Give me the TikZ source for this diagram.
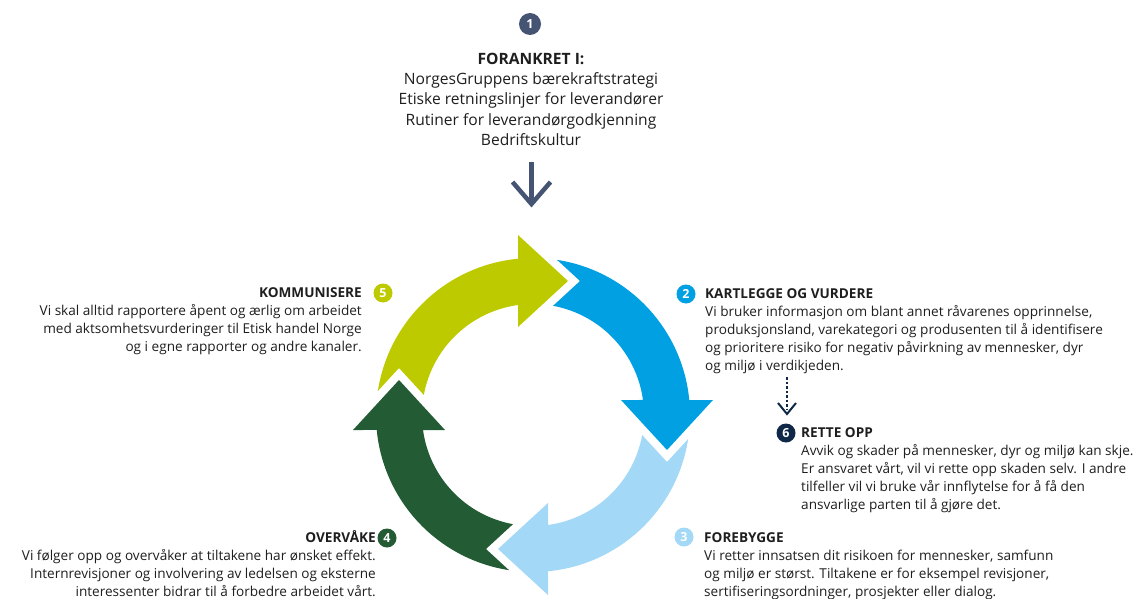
\documentclass[tikz,border=0pt]{standalone}
\usepackage{fontspec}
\setmainfont{Open Sans}
\usetikzlibrary{positioning}

\definecolor{ringYellow}{RGB}{190,202,0}
\definecolor{ringBlue}{RGB}{0,160,227}
\definecolor{ringLight}{RGB}{163,216,246}
\definecolor{ringGreen}{RGB}{35,92,52}
\definecolor{badgeGrey}{RGB}{68,84,114}
\definecolor{badgeNavy}{RGB}{16,40,72}
\definecolor{textDark}{RGB}{30,30,30}

\newcommand{\ttl}[1]{\textbf{\vphantom{Å}#1}}

\tikzset{
  badge/.style={circle, inner sep=0pt, minimum size=19pt, text=white,
    font=\bfseries\fontsize{12.5}{12.5}\selectfont},
  sidetext/.style={inner sep=0pt, text=textDark,
    font=\fontsize{13.6}{18}\selectfont},
  toptext/.style={inner sep=0pt, text=textDark, align=center,
    font=\fontsize{15.6}{20.2}\selectfont},
}

\begin{document}
\begin{tikzpicture}[x=1pt, y=-1pt]
  \useasboundingbox (0,0) rectangle (1137,599);
  %
  \newcommand{\rIn}{111}
  \newcommand{\rOut}{157}
  %
  % the four arrows of the cycle
  \begin{scope}[shift={(533,415)}, yscale=-1]
    \foreach \ang/\col in {0/ringYellow, 90/ringBlue, 180/ringLight, -90/ringGreen} {
      \fill[\col, rotate=\ang]
        (171.2:\rOut) arc[start angle=171.2, end angle=95.48, radius=\rOut]
        -- (-15,180) -- (35,134) -- (-15,88)
        -- (97.77:\rIn) arc[start angle=97.77, end angle=169.6, radius=\rIn]
        -- (-134,47) -- cycle;
    }
  \end{scope}
  %
  % top block
  \node[badge, fill=badgeGrey, minimum size=22pt] (b1) at (530,24) {1};
  \node[toptext, anchor=north] (forankret) at (531,53)
    {\textbf{FORANKRET I:}\\
     NorgesGruppens bærekraftstrategi\\
     Etiske retningslinjer for leverandører\\
     Rutiner for leverandørgodkjenning\\
     Bedriftskultur};
  \coordinate (topStart) at (531.5,162);
  \coordinate (topTip) at (531.5,204);
  \draw[badgeGrey, line width=4.5pt] (topStart) -- (topTip);
  \draw[badgeGrey, line width=4.5pt, line join=miter]
    (topTip) ++(-19,-22) -- (topTip) -- ++(19,-22);
  %
  % right side
  \node[badge, fill=ringBlue] (b2) at (686,294) {2};
  \node[sidetext, align=left, anchor=north west] (kartlegge) at (705,286)
    {\ttl{KARTLEGGE OG VURDERE}\\
     Vi bruker informasjon om blant annet råvarenes opprinnelse,\\
     produksjonsland, varekategori og produsenten til å identifisere\\
     og prioritere risiko for negativ påvirkning av mennesker, dyr\\
     og miljø i verdikjeden.};
  %
  \coordinate (dotStart) at (787,377);
  \coordinate (dotEnd) at (787,410);
  \coordinate (dotTip) at (787,414);
  \draw[badgeNavy, line width=2.5pt, dotted] (dotStart) -- (dotEnd);
  \draw[badgeNavy, line width=2pt, line join=miter]
    (dotTip) ++(-9,-11) -- (dotTip) -- ++(9,-11);
  %
  \node[badge, fill=badgeNavy] (b6) at (786,433) {6};
  \node[sidetext, align=left, anchor=north west] (rette) at (801,425)
    {\ttl{RETTE OPP}\\
     Avvik og skader på mennesker, dyr og miljø kan skje.\\
     Er ansvaret vårt, vil vi rette opp skaden selv. I andre\\
     tilfeller vil vi bruke vår innflytelse for å få den\\
     ansvarlige parten til å gjøre det.};
  %
  \node[badge, fill=ringLight] (b3) at (684,537) {3};
  \node[sidetext, align=left, anchor=north west] (forebygge) at (704,530)
    {\ttl{FOREBYGGE}\\
     Vi retter innsatsen dit risikoen for mennesker, samfunn\\
     og miljø er størst. Tiltakene er for eksempel revisjoner,\\
     sertifiseringsordninger, prosjekter eller dialog.};
  %
  % left side
  \node[badge, fill=ringYellow] (b5) at (383,293) {5};
  \node[sidetext, align=right, anchor=north east] (kommunisere) at (362,285)
    {\ttl{KOMMUNISERE}\\
     Vi skal alltid rapportere åpent og ærlig om arbeidet\\
     med aktsomhetsvurderinger til Etisk handel Norge\\
     og i egne rapporter og andre kanaler.};
  %
  \node[badge, fill=ringGreen] (b4) at (387,538) {4};
  \node[sidetext, align=right, anchor=north east] (overvake) at (376,530)
    {\ttl{OVERVÅKE}\\
     Vi følger opp og overvåker at tiltakene har ønsket effekt.\\
     Internrevisjoner og involvering av ledelsen og eksterne\\
     interessenter bidrar til å forbedre arbeidet vårt.};
\end{tikzpicture}
\end{document}
